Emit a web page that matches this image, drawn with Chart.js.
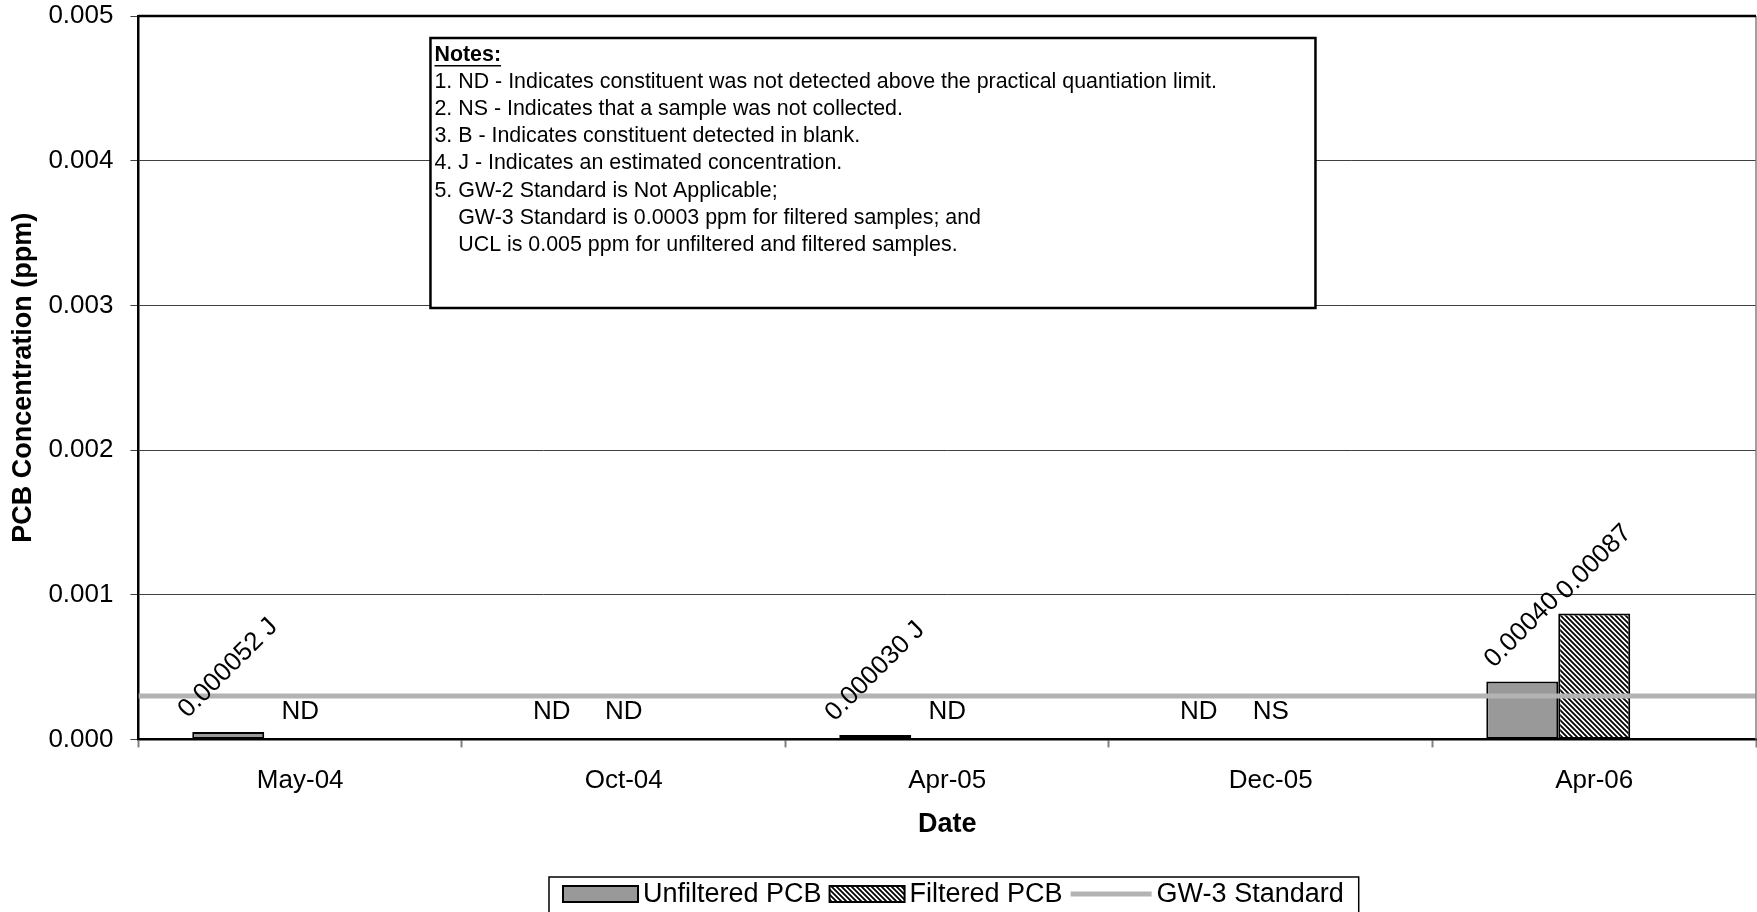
<!DOCTYPE html>
<html>
<head>
<meta charset="utf-8">
<title>PCB Concentration</title>
<script src="https://cdn.jsdelivr.net/npm/chart.js@4.4.0/dist/chart.umd.min.js"></script>
<style>
  html, body { margin: 0; padding: 0; background: #fff; }
  #wrap { position: relative; width: 1757px; height: 912px; }
</style>
</head>
<body>
<div id="wrap"><canvas id="pcbChart"></canvas></div>
<script>
const dates = ['May-04', 'Oct-04', 'Apr-05', 'Dec-05', 'Apr-06'];
const unfilteredPcb = [0.000052, null, 0.000030, null, 0.00040];
const filteredPcb = [null, null, null, null, 0.00087];
const unfilteredLabels = ['0.000052 J', 'ND', '0.000030 J', 'ND', '0.00040'];
const filteredLabels = ['ND', 'ND', 'ND', 'NS', '0.00087'];
const gw3X = [0, 5];           // standard runs across the whole date axis
const gw3Standard = [0.0003, 0.0003];
const yTickLabels = ['0.000', '0.001', '0.002', '0.003', '0.004', '0.005'];
const notes = [
    '1. ND - Indicates constituent was not detected above the practical quantiation limit.',
    '2. NS - Indicates that a sample was not collected.',
    '3. B - Indicates constituent detected in blank.',
    '4. J - Indicates an estimated concentration.',
    '5. GW-2 Standard is Not Applicable;',
    '    GW-3 Standard is 0.0003 ppm for filtered samples; and',
    '    UCL is 0.005 ppm for unfiltered and filtered samples.'
];

const FONT = "'Liberation Sans', Arial, sans-serif";
Chart.defaults.font.family = FONT;
Chart.defaults.font.size = 26;
Chart.defaults.color = '#000';

const canvas = document.getElementById('pcbChart');

// dates sit in the middle of each unit on a linear axis
const atDate = values => values.map((v, i) => ({ x: i + 0.5, y: v }));

// diagonal hatch for the filtered bars
function makeHatch() {
    const s = 5;
    const c = document.createElement('canvas');
    c.width = s; c.height = s;
    const g = c.getContext('2d');
    g.fillStyle = '#fff';
    g.fillRect(0, 0, s, s);
    g.strokeStyle = '#000';
    g.lineWidth = 1.8;
    g.beginPath();
    g.moveTo(-1, -1); g.lineTo(s + 1, s + 1);
    g.moveTo(-1, s - 1); g.lineTo(1, s + 1);
    g.moveTo(s - 1, -1); g.lineTo(s + 1, 1);
    g.stroke();
    return canvas.getContext('2d').createPattern(c, 'repeat');
}
const hatch = makeHatch();

const barLabels = { 0: unfilteredLabels, 1: filteredLabels };

// value labels above the bars, rotated for numbers, flat for ND / NS
const labelPlugin = {
    id: 'barLabels',
    afterDatasetsDraw(chart) {
        const ctx = chart.ctx;
        const base = chart.scales.y.getPixelForValue(0);
        ctx.save();
        ctx.font = '26px ' + FONT;
        ctx.fillStyle = '#000';
        ctx.textAlign = 'center';
        ctx.textBaseline = 'middle';
        Object.keys(barLabels).forEach(di => {
            const meta = chart.getDatasetMeta(+di);
            const values = chart.data.datasets[di].data;
            barLabels[di].forEach((text, i) => {
                const bar = meta.data[i];
                if (!bar) return;
                if (values[i].y === null) {
                    ctx.fillText(text, bar.x, base - 28);
                } else {
                    const w = ctx.measureText(text).width;
                    const half = (w + 26) * Math.SQRT1_2 / 2;
                    ctx.save();
                    ctx.translate(bar.x, bar.y - 9 - half);
                    ctx.rotate(-Math.PI / 4);
                    ctx.fillText(text, 0, 0);
                    ctx.restore();
                }
            });
        });
        ctx.restore();
    }
};

// plot frame, notes box and the boxed legend
const framePlugin = {
    id: 'frameNotesLegend',
    afterDraw(chart) {
        const ctx = chart.ctx;
        const a = chart.chartArea;
        ctx.save();
        ctx.strokeStyle = '#808080';
        ctx.lineWidth = 1.5;
        ctx.beginPath();
        ctx.moveTo(a.right, a.top);
        ctx.lineTo(a.right, a.bottom);
        ctx.stroke();
        ctx.strokeStyle = '#000';
        ctx.lineWidth = 2.5;
        ctx.beginPath();
        ctx.moveTo(a.left, a.top);
        ctx.lineTo(a.right, a.top);
        ctx.stroke();

        // notes
        const nx = a.left + 292, ny = a.top + 22, nw = 885, nh = 270;
        ctx.fillStyle = '#fff';
        ctx.fillRect(nx, ny, nw, nh);
        ctx.lineWidth = 2.5;
        ctx.strokeRect(nx, ny, nw, nh);
        ctx.fillStyle = '#000';
        ctx.textAlign = 'left';
        ctx.textBaseline = 'middle';
        ctx.font = 'bold 21.4px ' + FONT;
        ctx.fillText('Notes:', nx + 4, ny + 17);
        const uw = ctx.measureText('Notes:').width;
        ctx.fillRect(nx + 4, ny + 27, uw, 1.5);
        ctx.font = '21.4px ' + FONT;
        notes.forEach((line, i) => {
            ctx.fillText(line, nx + 4, ny + 44 + i * 27.2);
        });

        // legend
        const items = chart.data.datasets.filter(d => d.label);
        ctx.font = '27px ' + FONT;
        const swatch = d => d.type === 'line' ? 81 : 75;
        let total = 14 + 15;
        items.forEach((d, i) => {
            total += swatch(d) + 5 + ctx.measureText(d.label).width + (i ? 8 : 0);
        });
        const lx = Math.round((a.left + a.right) / 2 - total / 2 + 7);
        const ly = 877;
        ctx.lineWidth = 1.5;
        ctx.strokeStyle = '#000';
        ctx.strokeRect(lx, ly, total, 50);
        let x = lx + 14;
        const cy = ly + 17;
        items.forEach(d => {
            const sw = swatch(d);
            if (d.type === 'line') {
                ctx.strokeStyle = d.borderColor;
                ctx.lineWidth = d.borderWidth;
                ctx.beginPath();
                ctx.moveTo(x, cy);
                ctx.lineTo(x + sw, cy);
                ctx.stroke();
            } else {
                ctx.fillStyle = d.backgroundColor;
                ctx.fillRect(x, cy - 8, sw, 16);
                ctx.strokeStyle = '#000';
                ctx.lineWidth = 2;
                ctx.strokeRect(x, cy - 8, sw, 16);
            }
            x += sw + 5;
            ctx.fillStyle = '#000';
            ctx.fillText(d.label, x, cy + 1);
            x += ctx.measureText(d.label).width + 8;
        });
        ctx.restore();
    }
};

new Chart(canvas, {
    type: 'bar',
    data: {
        datasets: [
            {
                label: 'Unfiltered PCB',
                data: atDate(unfilteredPcb),
                backgroundColor: '#999999',
                borderColor: '#000',
                borderWidth: 2,
                borderSkipped: false,
                order: 1
            },
            {
                label: 'Filtered PCB',
                data: atDate(filteredPcb),
                backgroundColor: hatch,
                borderColor: '#000',
                borderWidth: 2,
                borderSkipped: false,
                order: 1
            },
            {
                // empty third series, keeps Excel's bar slots
                label: '',
                data: atDate(dates.map(() => null)),
                order: 1
            },
            {
                type: 'line',
                label: 'GW-3 Standard',
                data: gw3X.map((x, i) => ({ x: x, y: gw3Standard[i] })),
                borderColor: '#b3b3b3',
                borderWidth: 5,
                pointRadius: 0,
                order: 0
            }
        ]
    },
    options: {
        responsive: true,
        maintainAspectRatio: false,
        animation: false,
        layout: { padding: { left: 0, top: 0, right: 1, bottom: 71 } },
        datasets: { bar: { categoryPercentage: 0.6675, barPercentage: 1 } },
        plugins: {
            legend: { display: false },
            tooltip: { enabled: false }
        },
        scales: {
            x: {
                type: 'linear',
                min: 0,
                max: dates.length,
                offset: false,
                afterBuildTicks: axis => {
                    axis.ticks = dates.map((d, i) => ({ value: i + 0.5 }));
                },
                grid: {
                    display: true,
                    offset: true,
                    drawOnChartArea: false,
                    tickLength: 8,
                    tickColor: '#808080',
                    tickWidth: 2
                },
                border: { display: true, color: '#000', width: 2.5 },
                ticks: {
                    padding: 18,
                    maxRotation: 0,
                    autoSkip: false,
                    callback: (v, i) => dates[i]
                },
                title: {
                    display: true,
                    text: 'Date',
                    font: { size: 27, weight: 'bold' },
                    padding: { top: -6, bottom: 0 }
                }
            },
            y: {
                min: 0,
                max: 0.005,
                afterFit: scale => { scale.paddingTop = 16; },
                grid: {
                    color: '#404040',
                    lineWidth: 1,
                    tickLength: 8,
                    tickColor: '#404040'
                },
                border: { display: true, color: '#000', width: 2.5 },
                ticks: {
                    stepSize: 0.001,
                    padding: 17,
                    callback: (v, i) => yTickLabels[i]
                },
                title: {
                    display: true,
                    text: 'PCB Concentration (ppm)',
                    font: { size: 27, weight: 'bold' },
                    padding: { top: 7, bottom: -8 }
                }
            }
        }
    },
    plugins: [labelPlugin, framePlugin]
});
</script>
</body>
</html>
